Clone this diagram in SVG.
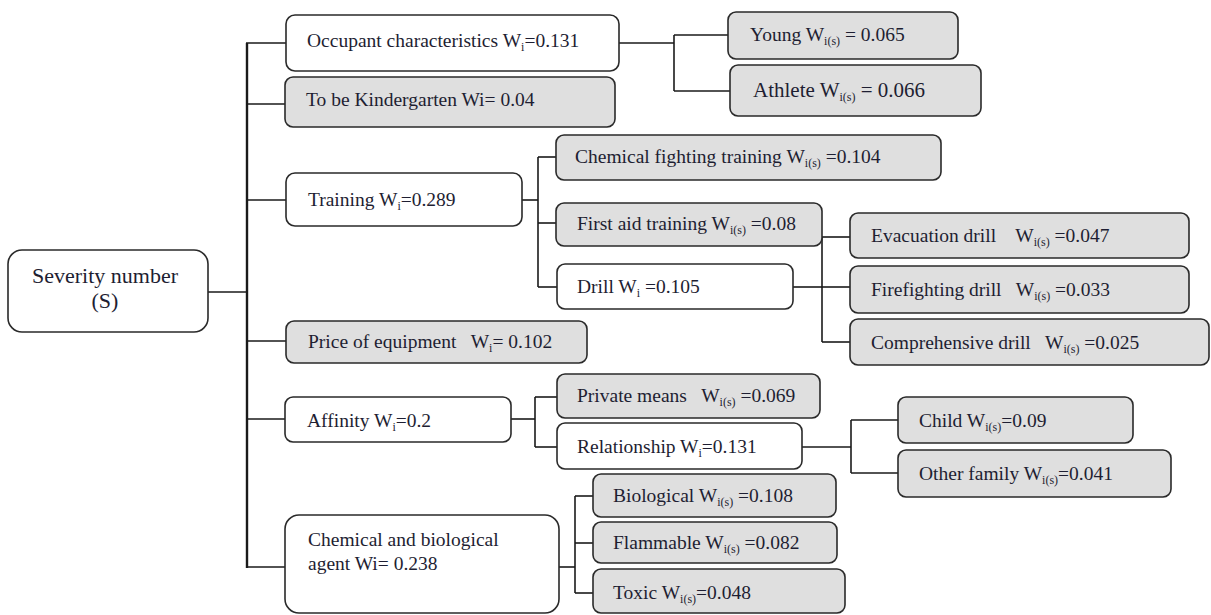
<svg xmlns="http://www.w3.org/2000/svg" width="1211" height="615" viewBox="0 0 1211 615">
<style>
.b{fill:#ffffff;stroke:#2a2a2a;stroke-width:1.6}
.g{fill:#dfdfdf;stroke:#2a2a2a;stroke-width:1.6}
.t{font-family:"Liberation Serif","Times New Roman",serif;font-size:19.5px;fill:#1e1e32;white-space:pre}
.big{font-size:21px}
.sev{font-size:22px}
.s{font-size:12px}
#connectors line{stroke:#1a1a1a;stroke-width:1.6;fill:none}
#connectors line.trunk{stroke-width:2.4}
</style>
<rect width="1211" height="615" fill="#ffffff"/>
<g id="connectors">
<line class="trunk" x1="247" y1="43" x2="247" y2="568"/>
<line x1="246" y1="43" x2="286" y2="43"/>
<line x1="246" y1="104" x2="285" y2="104"/>
<line x1="246" y1="200" x2="286" y2="200"/>
<line x1="208" y1="292" x2="248" y2="292"/>
<line x1="246" y1="341" x2="286" y2="341"/>
<line x1="246" y1="419" x2="285" y2="419"/>
<line x1="246" y1="567" x2="285" y2="567"/>
<line x1="619" y1="43" x2="674" y2="43"/>
<line x1="674" y1="35" x2="674" y2="91"/>
<line x1="674" y1="35" x2="728" y2="35"/>
<line x1="674" y1="91" x2="730" y2="91"/>
<line x1="522" y1="200" x2="538" y2="200"/>
<line x1="538" y1="157" x2="538" y2="287"/>
<line x1="538" y1="157" x2="556" y2="157"/>
<line x1="538" y1="223" x2="556" y2="223"/>
<line x1="538" y1="287" x2="557" y2="287"/>
<line x1="793" y1="287" x2="822" y2="287"/>
<line x1="822" y1="237" x2="822" y2="342"/>
<line x1="822" y1="237" x2="850" y2="237"/>
<line x1="822" y1="287" x2="850" y2="287"/>
<line x1="822" y1="342" x2="850" y2="342"/>
<line x1="511" y1="419" x2="535" y2="419"/>
<line x1="535" y1="397" x2="535" y2="447"/>
<line x1="535" y1="397" x2="557" y2="397"/>
<line x1="535" y1="447" x2="557" y2="447"/>
<line x1="802" y1="447" x2="851" y2="447"/>
<line x1="851" y1="420" x2="851" y2="473"/>
<line x1="851" y1="420" x2="898" y2="420"/>
<line x1="851" y1="473" x2="898" y2="473"/>
<line x1="559" y1="567" x2="575" y2="567"/>
<line x1="575" y1="496" x2="575" y2="593"/>
<line x1="575" y1="496" x2="593" y2="496"/>
<line x1="575" y1="543" x2="593" y2="543"/>
<line x1="575" y1="593" x2="593" y2="593"/>
</g>
<g id="severity">
<rect class="b" x="8" y="250" width="200" height="82" rx="14"/>
<text class="t sev" x="105" y="283" text-anchor="middle">Severity number</text>
<text class="t sev" x="105" y="308" text-anchor="middle">(S)</text>
</g>
<g id="occupant">
<rect class="b" x="286" y="15" width="333" height="56" rx="9"/>
<text class="t" x="307" y="47">Occupant characteristics W<tspan class="s" dy="4">i</tspan><tspan dy="-4">=0.131</tspan></text>
</g>
<g id="young">
<rect class="g" x="728" y="12" width="230" height="47" rx="8"/>
<text class="t" x="750" y="41">Young W<tspan class="s" dy="4">i(s)</tspan><tspan dy="-4"> = 0.065</tspan></text>
</g>
<g id="athlete">
<rect class="g" x="730" y="65" width="251" height="51" rx="8"/>
<text class="t big" x="753" y="97">Athlete W<tspan class="s" dy="4">i(s)</tspan><tspan dy="-4"> = 0.066</tspan></text>
</g>
<g id="kindergarten">
<rect class="g" x="285" y="77" width="330" height="50" rx="8"/>
<text class="t" x="306" y="106">To be Kindergarten Wi= 0.04</text>
</g>
<g id="training">
<rect class="b" x="286" y="173" width="236" height="53" rx="9"/>
<text class="t" x="308" y="206">Training W<tspan class="s" dy="4">i</tspan><tspan dy="-4">=0.289</tspan></text>
</g>
<g id="chemfight">
<rect class="g" x="556" y="135" width="385" height="45" rx="8"/>
<text class="t" x="575" y="163">Chemical fighting training W<tspan class="s" dy="4">i(s)</tspan><tspan dy="-4"> =0.104</tspan></text>
</g>
<g id="firstaid">
<rect class="g" x="556" y="203" width="266" height="43" rx="8"/>
<text class="t" x="577" y="230">First aid training W<tspan class="s" dy="4">i(s)</tspan><tspan dy="-4"> =0.08</tspan></text>
</g>
<g id="drill">
<rect class="b" x="557" y="264" width="236" height="45" rx="8"/>
<text class="t" x="577" y="293">Drill W<tspan class="s" dy="4">i</tspan><tspan dy="-4"> =0.105</tspan></text>
</g>
<g id="evacuation">
<rect class="g" x="850" y="213" width="339" height="45" rx="8"/>
<text class="t" x="871" y="242">Evacuation drill    W<tspan class="s" dy="4">i(s)</tspan><tspan dy="-4"> =0.047</tspan></text>
</g>
<g id="firefighting">
<rect class="g" x="850" y="266" width="339" height="47" rx="8"/>
<text class="t" x="871" y="296">Firefighting drill   W<tspan class="s" dy="4">i(s)</tspan><tspan dy="-4"> =0.033</tspan></text>
</g>
<g id="comprehensive">
<rect class="g" x="850" y="319" width="359" height="46" rx="8"/>
<text class="t" x="871" y="349">Comprehensive drill   W<tspan class="s" dy="4">i(s)</tspan><tspan dy="-4"> =0.025</tspan></text>
</g>
<g id="price">
<rect class="g" x="286" y="321" width="301" height="42" rx="8"/>
<text class="t" x="308" y="348">Price of equipment   W<tspan class="s" dy="4">i</tspan><tspan dy="-4">= 0.102</tspan></text>
</g>
<g id="affinity">
<rect class="b" x="285" y="397" width="226" height="45" rx="8"/>
<text class="t" x="307" y="427">Affinity W<tspan class="s" dy="4">i</tspan><tspan dy="-4">=0.2</tspan></text>
</g>
<g id="private">
<rect class="g" x="557" y="374" width="263" height="44" rx="8"/>
<text class="t" x="577" y="402">Private means   W<tspan class="s" dy="4">i(s)</tspan><tspan dy="-4"> =0.069</tspan></text>
</g>
<g id="relationship">
<rect class="b" x="557" y="423" width="245" height="46" rx="8"/>
<text class="t" x="577" y="453">Relationship W<tspan class="s" dy="4">i</tspan><tspan dy="-4">=0.131</tspan></text>
</g>
<g id="child">
<rect class="g" x="898" y="397" width="235" height="46" rx="8"/>
<text class="t" x="919" y="427">Child W<tspan class="s" dy="4">i(s)</tspan><tspan dy="-4">=0.09</tspan></text>
</g>
<g id="otherfamily">
<rect class="g" x="898" y="450" width="273" height="47" rx="8"/>
<text class="t" x="919" y="480">Other family W<tspan class="s" dy="4">i(s)</tspan><tspan dy="-4">=0.041</tspan></text>
</g>
<g id="chembio">
<rect class="b" x="285" y="515" width="274" height="98" rx="14"/>
<text class="t" x="308" y="546">Chemical and biological</text>
<text class="t" x="308" y="570">agent Wi= 0.238</text>
</g>
<g id="biological">
<rect class="g" x="593" y="474" width="243" height="43" rx="8"/>
<text class="t" x="613" y="502">Biological W<tspan class="s" dy="4">i(s)</tspan><tspan dy="-4"> =0.108</tspan></text>
</g>
<g id="flammable">
<rect class="g" x="593" y="522" width="244" height="41" rx="8"/>
<text class="t" x="613" y="549">Flammable W<tspan class="s" dy="4">i(s)</tspan><tspan dy="-4"> =0.082</tspan></text>
</g>
<g id="toxic">
<rect class="g" x="593" y="569" width="252" height="44" rx="8"/>
<text class="t" x="613" y="599">Toxic W<tspan class="s" dy="4">i(s)</tspan><tspan dy="-4">=0.048</tspan></text>
</g>
</svg>
